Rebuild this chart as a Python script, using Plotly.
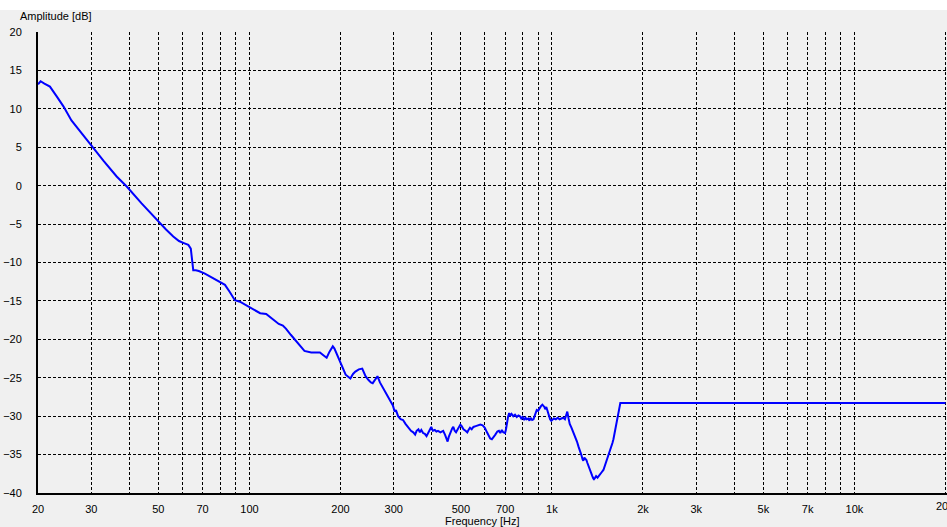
import math
import plotly.graph_objects as go

# Frequency (Hz) and amplitude (dB)
freq_hz = [20, 20.4, 21, 21.9, 23, 24.3, 25.8, 27.5, 29.7, 33, 36.4, 39.3, 44, 49.4, 53, 56,
           58.5, 61, 62.8, 64, 64.6, 65.2, 66.5, 68, 71, 74, 77, 80, 83, 86, 89.5, 93, 99,
           104, 108.5, 113.6, 120, 125, 129, 132, 137, 143, 148, 152, 160, 171, 176, 180,
           184, 188.6, 191, 194, 198, 202, 208, 215.6, 220, 224, 230, 236, 242, 247.6, 252,
           255.6, 260, 265, 270, 277, 283, 288, 293, 298,
           302, 305, 310, 316, 322, 328, 335, 342, 348, 353, 357, 362, 366, 370, 375, 380,
           385, 390, 395, 399, 404, 410, 415, 420, 428, 437, 443, 448, 452, 456, 462, 468,
           472, 477, 482, 487, 493, 498, 503, 510, 518, 525, 530, 536, 543, 550, 560, 570,
           580, 590, 600, 610, 617, 625, 633, 640, 650, 660, 668, 675, 683, 690, 700, 705,
           710, 716, 722, 728, 735, 745, 755, 765, 775, 784, 792, 800, 810, 818, 825, 836,
           843, 850, 860, 869, 878, 891, 900, 910, 920, 930, 937, 944, 950, 958, 965, 975,
           986, 995, 1002, 1015, 1030, 1045, 1060, 1075, 1090, 1104, 1115, 1124, 1135, 1145,
           1160, 1175, 1193, 1210, 1225, 1236, 1250, 1262, 1270, 1280, 1290, 1300, 1310,
           1320, 1330, 1345, 1360, 1370, 1377, 1390, 1400, 1415, 1430, 1445, 1460, 1480,
           1495, 1510, 1525, 1538, 1555, 1570, 1585, 1597, 1610, 1625, 1638, 1650, 1665,
           1683, 20000]

amp_db = [13.2, 13.6, 13.3, 12.9, 11.7, 10.3, 8.5, 7.1, 5.5, 3.2, 1.2, -0.1, -2.3, -4.5, -5.7, -6.6,
          -7.2, -7.5, -7.7, -8.2, -10.0, -11.0, -11.0, -11.1, -11.4, -11.8, -12.2, -12.5, -12.9,
          -13.8, -14.9, -15.1, -15.7, -16.2, -16.6, -16.7, -17.5, -18.0, -18.2, -18.6, -19.4,
          -20.3, -21.0, -21.5, -21.7, -21.7, -22.1, -22.4, -21.6, -20.9, -21.2, -21.8, -22.7,
          -23.6, -24.6, -25.1, -24.5, -24.2, -23.9, -23.8, -24.8, -25.3, -25.6, -25.7, -25.2,
          -24.8, -25.6, -26.4, -27.2, -27.7, -28.1, -28.6,
          -29.4, -29.2, -30.0, -30.4, -30.5, -31.0, -31.5, -31.9, -32.1, -32.4, -31.9, -31.7,
          -32.1, -31.8, -32.2, -32.3, -32.6, -32.1, -31.6, -31.4, -31.9, -31.8, -32.0, -31.9,
          -32.1, -31.9, -32.4, -32.9, -33.3, -32.7, -32.0, -31.6, -31.4, -31.9, -32.1, -31.8,
          -31.5, -31.1, -31.3, -31.7, -31.9, -32.1, -31.8, -31.5, -31.7, -31.4, -31.3, -31.2,
          -31.1, -31.2, -31.5, -32.1, -32.6, -32.9, -33.0, -32.8, -32.4, -32.0, -31.9, -32.2,
          -31.8, -32.1, -32.2, -31.7, -30.8, -30.1, -29.6, -29.9, -29.7, -30.0, -29.8, -30.1,
          -29.9, -30.0, -30.3, -30.1, -30.5, -30.2, -30.4, -30.3, -30.6, -30.2, -30.5, -30.4,
          -29.9, -29.2, -29.3, -28.9, -28.7, -28.5, -28.6, -28.8, -29.1, -28.8, -29.2, -29.8,
          -30.4, -30.6, -30.5, -30.3, -30.4, -30.2, -30.4, -30.3, -30.2, -30.4, -29.9, -29.4,
          -30.3, -31.0, -31.5, -32.0, -32.6, -33.3, -34.0, -34.4, -35.0, -35.6, -35.8, -35.4,
          -35.6, -35.7, -36.1, -36.5, -36.7, -37.2, -37.8, -38.1, -38.2, -38.0, -37.8, -38.0,
          -37.8, -37.5, -37.3, -37.0, -36.5, -36.0, -35.6, -35.2, -34.6, -34.0, -33.5, -33.0,
          -32.2, -31.3, -30.5, -29.7, -29.0, -28.3, -28.3]

x_grid = [20, 30, 40, 50, 60, 70, 80, 90, 100, 200, 300, 400, 500, 600, 700, 800, 900,
          1000, 2000, 3000, 4000, 5000, 6000, 7000, 8000, 9000, 10000, 20000]
x_labels = ["20", "30", "", "50", "", "70", "", "", "100", "200", "300", "", "500", "",
            "700", "", "", "1k", "2k", "3k", "", "5k", "", "7k", "", "", "10k", "20k"]
y_ticks = [20, 15, 10, 5, 0, -5, -10, -15, -20, -25, -30, -35, -40]

FONT = "Liberation Sans"
W, H = 947, 527
L, R, T, B = 38, 0, 32, 34
pw, ph = W - L - R, H - T - B

fig = go.Figure()
fig.add_trace(go.Scatter(x=freq_hz, y=amp_db, mode="lines",
                         line=dict(color="#0000FF", width=2), showlegend=False,
                         hoverinfo="skip"))

# right-edge grid line and its label (last tick value), which Plotly drops at the border
fig.add_shape(type="line", xref="x", yref="paper", x0=x_grid[-1], x1=x_grid[-1],
              y0=0, y1=1, line=dict(color="#000000", width=1, dash="3px,2px"))
fig.add_annotation(text=x_labels[-1], xref="x", yref="paper", x=math.log10(x_grid[-1]),
                   y=0, yshift=-5, showarrow=False, xanchor="center", yanchor="top",
                   font=dict(family=FONT, size=11, color="#000000"))

fig.update_layout(
    width=W, height=H,
    margin=dict(l=L, r=R, t=T, b=B),
    paper_bgcolor="#F0F0F0", plot_bgcolor="#F0F0F0",
    font=dict(family=FONT, size=11, color="#000000"),
    xaxis=dict(type="log", range=[1.30103, 4.30103 + 0.005], tickvals=x_grid,
               ticktext=x_labels,
               showgrid=True, gridcolor="#000000", gridwidth=1, griddash="3px,2px",
               showline=True, linecolor="#000000", linewidth=2, zeroline=False,
               ticks="outside", ticklen=5, tickcolor="rgba(0,0,0,0)",
               tickfont=dict(family=FONT, size=11, color="#000000")),
    yaxis=dict(range=[-40, 20.01], tickvals=y_ticks, showgrid=True, gridcolor="#000000",
               gridwidth=1, griddash="3px,2px", showline=True, linecolor="#000000",
               linewidth=2, zeroline=False, ticks="outside", ticklen=12,
               tickcolor="rgba(0,0,0,0)",
               tickfont=dict(family=FONT, size=11, color="#000000")),
    shapes=[dict(type="rect", xref="paper", yref="paper", x0=-1, x1=2,
                 y0=(H - B - 10) / ph, y1=1.2, fillcolor="#FFFFFF", line=dict(width=0),
                 layer="below")],
    annotations=[
        dict(text="<b>Frequency Response</b>", xref="paper", yref="paper",
             x=(455 - L) / pw, y=(H - B - 20) / ph, showarrow=False,
             xanchor="center", yanchor="middle", font=dict(family=FONT, size=11)),
        dict(text="Amplitude [dB]", xref="paper", yref="paper",
             x=(18 - L) / pw, y=(H - B - 16) / ph, showarrow=False,
             xanchor="left", yanchor="middle", font=dict(family=FONT, size=11)),
        dict(text="Frequency [Hz]", xref="paper", yref="paper",
             x=(482 - L) / pw, y=(H - B - 521) / ph, showarrow=False,
             xanchor="center", yanchor="middle", font=dict(family=FONT, size=11)),
    ],
)

fig.write_html("out.html")
